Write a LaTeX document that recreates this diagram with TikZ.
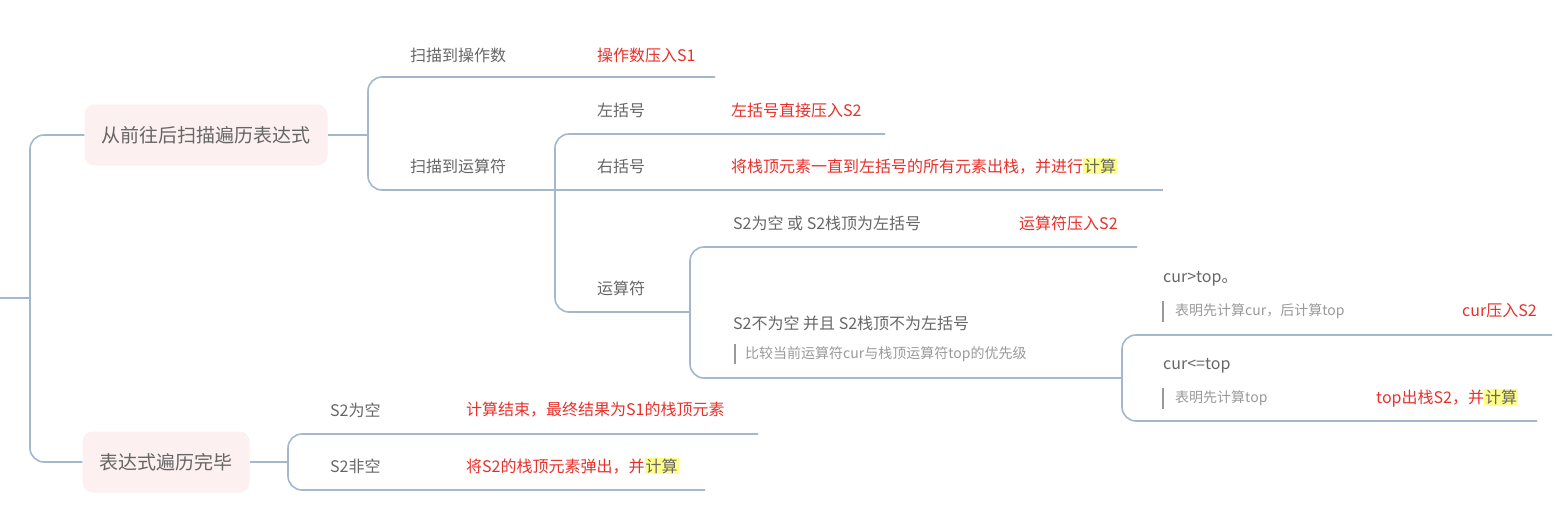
\documentclass[tikz,border=0pt]{standalone}
\usepackage{fontspec}
\setmainfont{Noto Sans CJK SC}
\definecolor{lineblue}{HTML}{A3B8CC}
\definecolor{txtgray}{HTML}{666666}
\definecolor{txtred}{HTML}{E8302A}
\definecolor{boxpink}{HTML}{FCF0F0}
\definecolor{hlyellow}{HTML}{FFFF88}
\definecolor{notegray}{HTML}{999999}
\tikzset{
  branch/.style={draw=lineblue, line width=1.6pt, rounded corners=14pt},
  topic/.style={fill=boxpink, rounded corners=10pt, text=txtgray, font=\fontsize{19}{22}\selectfont, minimum height=61pt, inner xsep=17pt},
  label/.style={anchor=west, text=txtgray, font=\fontsize{16}{19}\selectfont, inner sep=0pt},
  value/.style={anchor=west, text=txtred, font=\fontsize{16}{19}\selectfont, inner sep=0pt},
  note/.style={anchor=west, text=notegray, font=\fontsize{14}{17}\selectfont, inner sep=0pt},
  notebar/.style={draw=notegray, line width=2pt}
}
\newcommand{\hlcalc}{\tikz[baseline=(h.base)]\node[fill=hlyellow,inner sep=1pt,text=txtgray](h){计算};}
\begin{document}
\begin{tikzpicture}[x=1pt,y=-1pt]
\useasboundingbox (0,0) rectangle (1557,531);
% topics
\node[topic] (scan) at (206,135) {从前往后扫描遍历表达式};
\node[topic] (done) at (166,462) {表达式遍历完毕};
% root
\draw[branch] (0,298) -- (30,298);
\draw[branch] (scan.west) -- (30,135) -- (30,462) -- (done.west);
% scan children
\draw[branch] (715,77) -- (368,77) -- (368,190) -- (555,190);
\draw[branch] (scan.east) -- (368,135);
\node[label] (opnd) at (410,55) {扫描到操作数};
\node[value] (opndv) at (597,55) {操作数压入S1};
\node[label] (oper) at (410,166) {扫描到运算符};
% operator children
\draw[branch] (885,134) -- (555,134) -- (555,312) -- (690,312);
\draw[branch] (555,190) -- (1163,190);
\node[label] (lp) at (597,110) {左括号};
\node[value] (lpv) at (731,110) {左括号直接压入S2};
\node[label] (rp) at (597,166) {右括号};
\node[value] (rpv) at (731,166) {将栈顶元素一直到左括号的所有元素出栈，并进行\hlcalc};
\node[label] (op) at (597,288) {运算符};
% op children
\draw[branch] (1137,247) -- (690,247) -- (690,378) -- (1122,378);
\node[label] (empty) at (733,223) {S2为空 或 S2栈顶为左括号};
\node[value] (emptyv) at (1019,223) {运算符压入S2};
\node[label] (nempty) at (733,323) {S2不为空 并且 S2栈顶不为左括号};
\draw[notebar] (735,344) -- (735,364);
\node[note] (cmp) at (745,354) {比较当前运算符cur与栈顶运算符top的优先级};
% compare children
\draw[branch] (1552,335) -- (1122,335) -- (1122,421) -- (1537,421);
\node[label] (gt) at (1163,279) {cur>top。};
\draw[notebar] (1163,301) -- (1163,322);
\node[note] (gtn) at (1175,311) {表明先计算cur，后计算top};
\node[value] (gtv) at (1462,311) {cur压入S2};
\node[label] (le) at (1163,366) {cur<=top};
\draw[notebar] (1163,388) -- (1163,409);
\node[note] (len) at (1175,398) {表明先计算top};
\node[value] (lev) at (1376,398) {top出栈S2，并\hlcalc};
% done children
\draw[branch] (758,434) -- (288,434) -- (288,490) -- (705,490);
\draw[branch] (done.east) -- (288,462);
\node[label] (e2) at (330,410) {S2为空};
\node[value] (e2v) at (466,410) {计算结束，最终结果为S1的栈顶元素};
\node[label] (ne2) at (330,466) {S2非空};
\node[value] (ne2v) at (466,466) {将S2的栈顶元素弹出，并\hlcalc};
\end{tikzpicture}
\end{document}
